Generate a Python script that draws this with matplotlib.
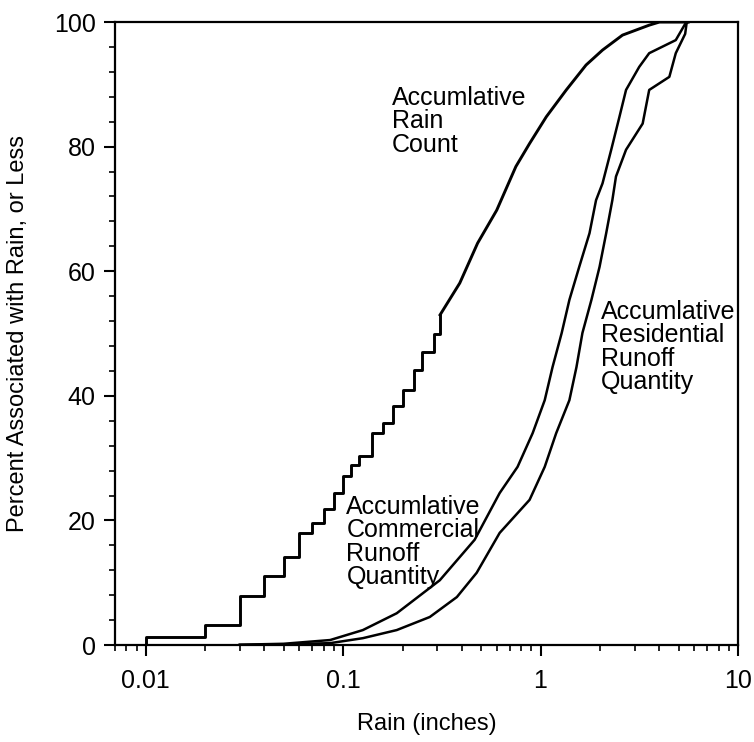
import matplotlib.pyplot as plt
from matplotlib.ticker import AutoMinorLocator, NullFormatter

plt.rcParams['font.family'] = ['Liberation Sans', 'DejaVu Sans']

# accumulative rain count (step part, 0.01 inch resolution)
rain_step_x = [0.01, 0.01, 0.02, 0.03, 0.04, 0.05, 0.06, 0.07, 0.08, 0.09, 0.10,
               0.11, 0.12, 0.14, 0.16, 0.18, 0.20, 0.23, 0.25, 0.29, 0.31]
rain_step_y = [0.0, 1.3, 3.2, 7.9, 11.1, 14.1, 18.0, 19.6, 21.8, 24.4, 27.1,
               28.9, 30.3, 34.0, 35.7, 38.3, 40.9, 44.1, 47.1, 50.0, 53.0]
# accumulative rain count (smooth part)
rain_x = [0.31, 0.39, 0.48, 0.60, 0.75, 0.88, 1.07, 1.35, 1.70, 2.06, 2.6, 3.55, 4.0, 5.6]
rain_y = [53.0, 58.1, 64.5, 69.8, 76.8, 80.5, 84.8, 89.1, 93.1, 95.5, 97.9, 99.5, 100, 100]

# accumulative commercial runoff quantity
com_x = [0.03, 0.05, 0.086, 0.126, 0.187, 0.309, 0.464, 0.621, 0.765, 0.912, 1.05,
         1.15, 1.28, 1.40, 1.57, 1.77, 1.91, 2.06, 2.28, 2.51, 2.71, 3.16, 3.55,
         4.84, 5.4, 5.6]
com_y = [0.05, 0.2, 0.8, 2.4, 5.1, 10.4, 16.9, 24.4, 28.6, 34.0, 39.3,
         44.6, 50.1, 55.4, 60.7, 66.1, 71.4, 74.1, 79.5, 84.8, 89.1, 92.8, 95.0,
         97.1, 99.7, 100]

# accumulative residential runoff quantity
res_x = [0.03, 0.05, 0.086, 0.126, 0.187, 0.275, 0.377, 0.475, 0.621, 0.88, 1.05,
         1.20, 1.40, 1.52, 1.63, 1.81, 1.99, 2.15, 2.31, 2.41, 2.71, 3.29, 3.55,
         4.49, 4.84, 5.4, 5.5]
res_y = [0.02, 0.1, 0.3, 1.1, 2.4, 4.5, 7.7, 11.6, 18.0, 23.3, 28.6,
         34.0, 39.3, 44.6, 50.1, 55.4, 60.7, 66.1, 71.4, 75.2, 79.5, 83.7, 89.1,
         91.2, 95.0, 98.1, 100]

x_ticks = [0.01, 0.1, 1, 10]
x_tick_labels = ['0.01', '0.1', '1', '10']
y_ticks = [0, 20, 40, 60, 80, 100]

fig = plt.figure(figsize=(7.54, 7.42), dpi=100)
ax = fig.add_axes([0.1525, 0.1307, 0.8263, 0.8396])

ax.plot(rain_step_x, rain_step_y, color='black', lw=2.1, drawstyle='steps-post')
ax.plot(rain_x, rain_y, color='black', lw=2.1)
ax.plot(com_x, com_y, color='black', lw=1.8)
ax.plot(res_x, res_y, color='black', lw=1.8)

ax.set_xscale('log')
ax.set_xlim(0.007, 10)
ax.set_ylim(0, 100)
ax.set_xticks(x_ticks)
ax.set_xticklabels(x_tick_labels)
ax.xaxis.set_minor_formatter(NullFormatter())
ax.set_yticks(y_ticks)
ax.yaxis.set_minor_locator(AutoMinorLocator(5))

ax.tick_params(which='major', direction='out', length=8, width=1.5,
               labelsize=18, top=False, right=False)
ax.tick_params(which='minor', direction='out', length=4.5, width=1.2,
               top=False, right=False)
ax.tick_params(axis='x', which='major', pad=9)
ax.tick_params(axis='y', which='major', pad=6)
for s in ax.spines.values():
    s.set_linewidth(1.6)

ax.set_xlabel('Rain (inches)', fontsize=17)
ax.set_ylabel('Percent Associated with Rain, or Less', fontsize=17)
ax.xaxis.set_label_coords(0.5, -0.109)
ax.yaxis.set_label_coords(-0.138, 0.5)

ax.text(0.177, (645 - 86) / 6.23, 'Accumlative\nRain\nCount', fontsize=18,
        va='top', ha='left', linespacing=0.97)
ax.text(0.104, (645 - 495) / 6.23, 'Accumlative\nCommercial\nRunoff\nQuantity',
        fontsize=18, va='top', ha='left', linespacing=0.97)
ax.text(2.03, (645 - 300) / 6.23, 'Accumlative\nResidential\nRunoff\nQuantity',
        fontsize=18, va='top', ha='left', linespacing=0.97)

plt.savefig('out.png', dpi=100)
plt.close(fig)
